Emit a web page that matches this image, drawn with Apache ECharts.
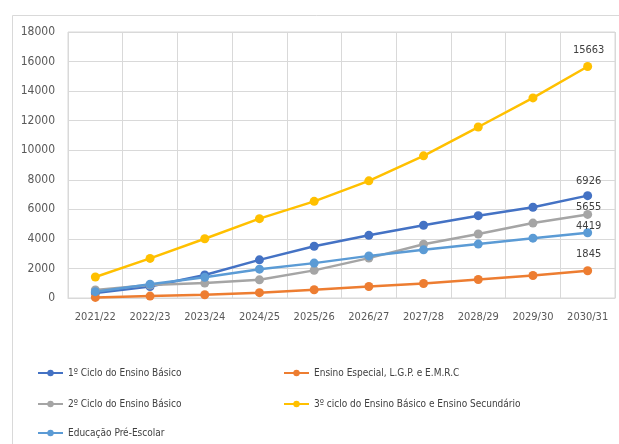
<!DOCTYPE html>
<html>
<head>
<meta charset="utf-8">
<script src="https://cdn.jsdelivr.net/npm/echarts@6/dist/echarts.min.js"></script>
<style>
  html, body { margin: 0; padding: 0; background: #fff; }
  #chart { width: 619px; height: 444px; }
</style>
</head>
<body>
<div id="chart"></div>
<script>
// School years on the category axis
const years = ['2021/22', '2022/23', '2023/24', '2024/25', '2025/26', '2026/27', '2027/28', '2028/29', '2029/30', '2030/31'];

// Values per education level
const ciclo1 = [330, 780, 1560, 2580, 3500, 4240, 4920, 5570, 6140, 6926];
const especial = [40, 130, 220, 360, 560, 780, 980, 1250, 1520, 1845];
const ciclo2 = [540, 880, 1010, 1230, 1870, 2700, 3640, 4330, 5070, 5655];
const ciclo3 = [1420, 2680, 4010, 5370, 6540, 7930, 9620, 11570, 13540, 15663];
const preEscolar = [430, 930, 1400, 1950, 2360, 2850, 3260, 3650, 4050, 4419];

const yTicks = { min: 0, max: 18000, interval: 2000 };

const FONT = "'DejaVu Sans Condensed', 'Liberation Sans', sans-serif";
const GRID_COLOR = '#d9d9d9';

// Label only the final year's value, lifted by the given offset
function withEndLabel(values, dy) {
  return values.map((v, i) => i === values.length - 1
    ? { value: v, label: { show: true, position: 'top', distance: 0, offset: [1, dy], color: '#404040', fontSize: 11, fontFamily: FONT } }
    : v);
}

function lineSeries(name, color, values, dy) {
  return {
    name: name,
    type: 'line',
    data: withEndLabel(values, dy),
    symbol: 'circle',
    symbolSize: 9,
    lineStyle: { color: color, width: 2.5 },
    itemStyle: { color: color },
    emphasis: { disabled: true },
    animation: false
  };
}

const series = [
  lineSeries('1º Ciclo do Ensino Básico', '#4472C4', ciclo1, -5),
  lineSeries('Ensino Especial, L.G.P. e E.M.R.C', '#ED7D31', especial, -7),
  lineSeries('2º Ciclo do Ensino Básico', '#A5A5A5', ciclo2, 3),
  lineSeries('3º ciclo do Ensino Básico e Ensino Secundário', '#FFC000', ciclo3, -6),
  lineSeries('Educação Pré-Escolar', '#5B9BD5', preEscolar, 3)
];

// One legend block per entry so the two columns line up
const legendSpots = [
  { left: 37, top: 368 },
  { left: 283, top: 368 },
  { left: 37, top: 399 },
  { left: 283, top: 399 },
  { left: 37, top: 428 }
];
const legends = series.map((s, i) => ({
  data: [s.name],
  left: legendSpots[i].left,
  top: legendSpots[i].top,
  padding: 0,
  itemWidth: 25,
  itemHeight: 8,
  selectedMode: false,
  textStyle: { color: '#404040', fontSize: 10, fontFamily: FONT }
}));

const chart = echarts.init(document.getElementById('chart'), null, { renderer: 'canvas' });
chart.setOption({
  backgroundColor: '#fff',
  animation: false,
  graphic: [{
    type: 'rect',
    shape: { x: 12.5, y: 15.5, width: 640, height: 460 },
    style: { fill: 'none', stroke: GRID_COLOR, lineWidth: 1 },
    silent: true,
    z: -1
  }],
  grid: {
    left: 68, right: 4, top: 32, bottom: 146,
    show: true, borderColor: GRID_COLOR, borderWidth: 1, backgroundColor: 'transparent'
  },
  legend: legends,
  xAxis: {
    type: 'category',
    data: years,
    boundaryGap: true,
    axisLine: { lineStyle: { color: GRID_COLOR } },
    axisTick: { show: false },
    splitLine: { show: true, lineStyle: { color: GRID_COLOR } },
    axisLabel: { color: '#595959', fontSize: 11, fontFamily: FONT, margin: 14, interval: 0 }
  },
  yAxis: {
    type: 'value',
    min: yTicks.min,
    max: yTicks.max,
    interval: yTicks.interval,
    axisLine: { show: false },
    axisTick: { show: false },
    splitLine: { lineStyle: { color: GRID_COLOR } },
    axisLabel: { color: '#595959', fontSize: 12, fontFamily: FONT, margin: 13, formatter: v => String(v) }
  },
  series: series
});
</script>
</body>
</html>
